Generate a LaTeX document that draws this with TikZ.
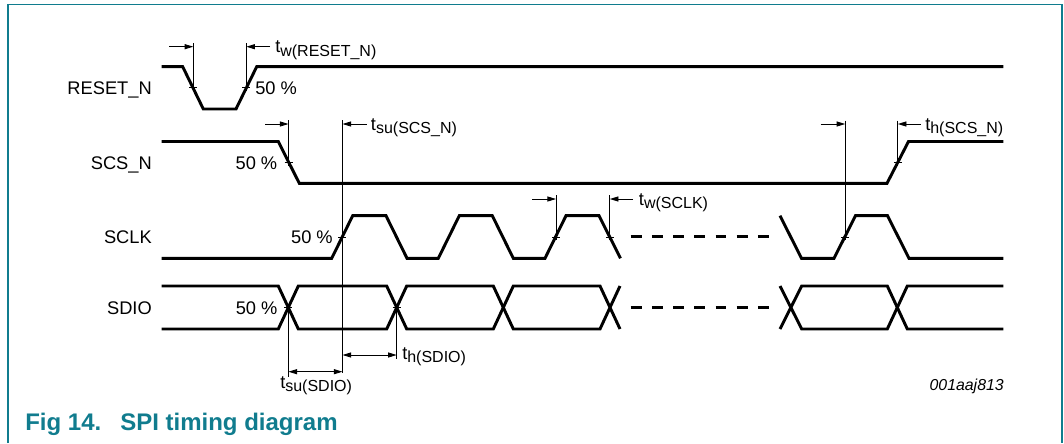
\documentclass[tikz,border=0pt]{standalone}
\usepackage{fontspec}
\setmainfont{Liberation Sans}
\usetikzlibrary{arrows.meta}
\definecolor{nxpteal}{RGB}{16,124,142}
\newcommand{\tlab}[1]{t\raisebox{-2.6pt}{\fontsize{12}{12}\selectfont #1}}
\begin{document}
\begin{tikzpicture}[x=0.75pt,y=-0.75pt,
  sig/.style={line width=2.2pt, line join=miter},
  thinl/.style={line width=0.7pt},
  dim/.style={line width=0.7pt, -{Triangle[length=6.5pt,width=3.8pt]}},
  ddim/.style={line width=0.7pt, {Triangle[length=6.5pt,width=3.8pt]}-{Triangle[length=6.5pt,width=3.8pt]}},
  dashsig/.style={line width=2.2pt, dash pattern=on 8.1pt off 7.8pt},
  lbl/.style={inner sep=0pt, font=\fontsize{13.7}{14}\selectfont},
  note/.style={inner sep=0pt, font=\fontsize{11.9}{13}\selectfont\itshape},
  figcaption/.style={inner sep=0pt, text=nxpteal, font=\fontsize{18}{20}\selectfont\bfseries}]
\useasboundingbox (0,0) rectangle (1064,443);
% frame
\draw[nxpteal, line width=1.3pt] (8,443) -- (8,4.5) -- (1062,4.5) -- (1062,443);

% signal names
\node[lbl, anchor=base east] (nreset) at (152,94.5) {RESET\_N};
\node[lbl, anchor=base east] (nscs) at (152,169) {SCS\_N};
\node[lbl, anchor=base east] (nsclk) at (152,243.5) {SCLK};
\node[lbl, anchor=base east] (nsdio) at (152,314) {SDIO};

% RESET_N
\draw[sig] (161.7,66.7) -- (182.7,66.7) -- (203.3,109) -- (236,109) -- (256.7,66.7) -- (1003.3,66.7);
% SCS_N
\draw[sig] (161.7,141.5) -- (278.3,141.5) -- (299.3,183.3) -- (887,183.3) -- (908.5,141.5) -- (1003.3,141.5);
% SCLK
\draw[sig] (161.7,258.3) -- (331.7,258.3) -- (352.7,215.7) -- (386,215.7) -- (407,258.3) -- (438.3,258.3)
  -- (459.3,215.7) -- (492.3,215.7) -- (513.3,258.3) -- (545,258.3) -- (566,215.7) -- (599,215.7) -- (620.5,258.3);
\draw[sig] (780,215.7) -- (801.5,258.3) -- (834,258.3) -- (855.5,215.7) -- (887.5,215.7) -- (909,258.3) -- (1003.3,258.3);
\coordinate (dk1) at (630.7,236.8); \coordinate (dk2) at (769.3,236.8);
\draw[dashsig] (dk1) -- (dk2);
% SDIO
\draw[sig] (161.7,286) -- (278.3,286) -- (298.3,329) -- (386.7,329) -- (406.7,286) -- (493.3,286) -- (513.3,329) -- (600,329) -- (620,286);
\draw[sig] (161.7,329) -- (278.3,329) -- (298.3,286) -- (386.7,286) -- (406.7,329) -- (493.3,329) -- (513.3,286) -- (600,286) -- (620,329);
\draw[sig] (780,286) -- (801.7,329) -- (887.3,329) -- (907.3,286) -- (1003.3,286);
\draw[sig] (780,329) -- (801.7,286) -- (887.3,286) -- (907.3,329) -- (1003.3,329);
\coordinate (dd1) at (630.7,307.5); \coordinate (dd2) at (769.3,307.5);
\draw[dashsig] (dd1) -- (dd2);

% 50 % ticks
\foreach \x/\y in {193.3/87.9, 246.3/87.9, 288.5/162.4, 897.8/162.4, 342.3/237, 556/237, 609.8/237, 845.2/237, 288.3/307.5, 396.7/307.5}
  \draw[thinl] (\x-4,\y) -- (\x+4,\y);

% 50 % labels
\node[lbl, anchor=base west] (p1) at (255,94.5) {50 \%};
\node[lbl, anchor=base east] (p2) at (277.5,169) {50 \%};
\node[lbl, anchor=base east] (p3) at (333,243.5) {50 \%};
\node[lbl, anchor=base east] (p4) at (277.7,314) {50 \%};

% reference lines
\coordinate (v1t) at (193.3,43); \coordinate (v1b) at (193.3,91);
\coordinate (v2t) at (246.3,43); \coordinate (v2b) at (246.3,91);
\coordinate (v3t) at (288.5,120); \coordinate (v3b) at (288.5,165.5);
\coordinate (v4t) at (342.5,120); \coordinate (v4b) at (342.5,373.3);
\coordinate (v5t) at (556,195); \coordinate (v5b) at (556,240);
\coordinate (v6t) at (609.8,195); \coordinate (v6b) at (609.8,240);
\coordinate (v7t) at (845.2,120.5); \coordinate (v7b) at (845.2,240);
\coordinate (v8t) at (897.8,120.5); \coordinate (v8b) at (897.8,165.5);
\coordinate (v9t) at (288.4,307.5); \coordinate (v9b) at (288.4,376.7);
\coordinate (v10t) at (396.7,307.5); \coordinate (v10b) at (396.7,359.3);
\foreach \v in {1,...,10} \draw[thinl] (v\v t) -- (v\v b);

% arrows
\coordinate (a1) at (169,46.7);   \draw[dim] (a1) -- (a1 -| v1t);
\coordinate (a2) at (270,46.7);   \draw[dim] (a2) -- (a2 -| v2t);
\coordinate (a3) at (265,124);    \draw[dim] (a3) -- (a3 -| v3t);
\coordinate (a4) at (366.5,124);  \draw[dim] (a4) -- (a4 -| v4t);
\coordinate (a5) at (532.4,199);  \draw[dim] (a5) -- (a5 -| v5t);
\coordinate (a6) at (633,199);    \draw[dim] (a6) -- (a6 -| v6t);
\coordinate (a7) at (820.7,124);  \draw[dim] (a7) -- (a7 -| v7t);
\coordinate (a8) at (920.5,124);  \draw[dim] (a8) -- (a8 -| v8t);
\coordinate (a9) at (288.4,371.7); \draw[ddim] (a9) -- (a9 -| v4t);
\coordinate (a10) at (342.5,355); \draw[ddim] (a10) -- (a10 -| v10t);

% timing labels
\node[lbl, anchor=base west] (l1) at (275,52.7) {\tlab{w(RESET\_N)}};
\node[lbl, anchor=base west] (l2) at (370.7,130) {\tlab{su(SCS\_N)}};
\node[lbl, anchor=base west] (l3) at (638.7,205) {\tlab{w(SCLK)}};
\node[lbl, anchor=base west] (l4) at (925,130) {\tlab{h(SCS\_N)}};
\node[lbl, anchor=base west] (l5) at (402,359.3) {\tlab{h(SDIO)}};
\node[lbl, anchor=base west] (l6) at (280,388) {\tlab{su(SDIO)}};

% id and caption
\node[note, anchor=base east] (id) at (1004,390.5) {001aaj813};
\node[figcaption, anchor=base west] (fig) at (25,430) {Fig 14.};
\node[figcaption, anchor=base west] (title) at (120,430) {SPI timing diagram};
\end{tikzpicture}
\end{document}
